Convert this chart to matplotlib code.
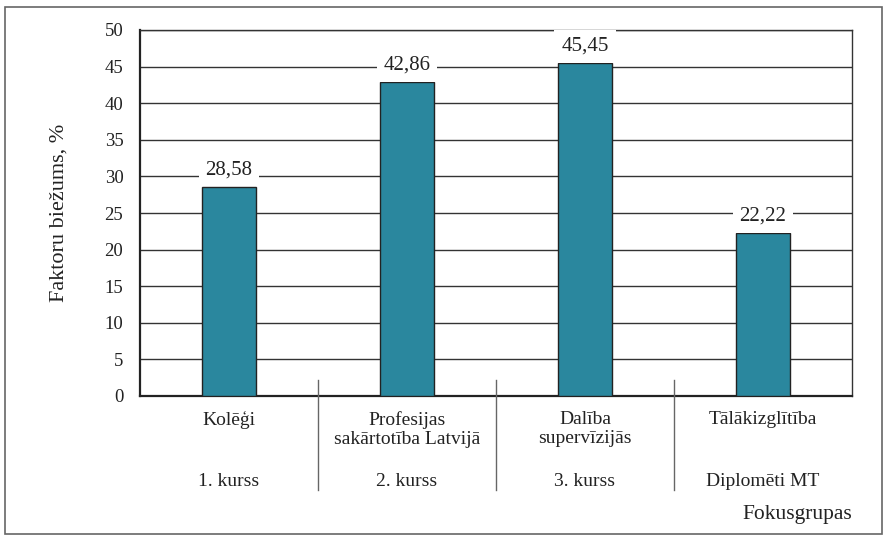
import matplotlib
matplotlib.use("Agg")
import matplotlib.pyplot as plt
from matplotlib.patches import Rectangle

categories = ["Kolēģi", "Profesijas\nsakārtotība Latvijā", "Dalība\nsupervīzijās", "Tālākizglītība"]
groups = ["1. kurss", "2. kurss", "3. kurss", "Diplomēti MT"]
values = [28.58, 42.86, 45.45, 22.22]
yticks = [0, 5, 10, 15, 20, 25, 30, 35, 40, 45, 50]

BAR_COLOR = "#2a879e"
TEXT = "#222222"
plt.rcParams["font.family"] = ["Liberation Serif", "DejaVu Serif"]

fig = plt.figure(figsize=(8.87, 5.41), dpi=100)
ax = fig.add_axes([140 / 887, 1 - 396 / 541, 712 / 887, 366 / 541])

# outer frame round the whole figure
fig.patches.append(Rectangle((5 / 887, 7 / 541), 877 / 887, 527 / 541,
                             transform=fig.transFigure, fill=False,
                             edgecolor="#666666", lw=1.2))

x = list(range(len(values)))
ax.bar(x, values, width=0.3, color=BAR_COLOR, edgecolor=TEXT, lw=1.0, zorder=3)

for xi, v in zip(x, values):
    ax.text(xi, v + 1.0, f"{v:.2f}".replace(".", ","), ha="center", va="bottom",
            fontsize=15, color=TEXT, zorder=4,
            bbox=dict(facecolor="white", edgecolor="none", pad=5))

ax.set_xlim(-0.5, len(values) - 0.5)
ax.set_ylim(0, 50)
ax.set_yticks(yticks)
ax.set_yticklabels([str(t) for t in yticks], fontsize=13.5, color=TEXT)
ax.tick_params(axis="y", length=0, pad=12)
ax.set_xticks([])
ax.yaxis.grid(True, color="#333333", lw=1.0, zorder=0)
ax.set_axisbelow(True)
for side in ["left", "bottom"]:
    ax.spines[side].set_linewidth(1.6)
    ax.spines[side].set_color(TEXT)
for side in ["top", "right"]:
    ax.spines[side].set_linewidth(1.0)
    ax.spines[side].set_color("#333333")

# category / group labels and the divider lines between them
for xi, (cat, grp) in enumerate(zip(categories, groups)):
    ax.text(xi, -2.1, cat, ha="center", va="top", fontsize=14, color=TEXT,
            linespacing=1.12)
    ax.text(xi, -10.5, grp, ha="center", va="top", fontsize=14, color=TEXT)
for xi in x[:-1]:
    ax.plot([xi + 0.5, xi + 0.5], [2.2, -12.9], color="#666666", lw=1.0,
            clip_on=False, zorder=5)

ax.set_ylabel("Faktoru biežums, %", fontsize=16, color=TEXT)
ax.yaxis.set_label_coords(-0.101, 0.5)
ax.text(len(values) - 0.5, -14.9, "Fokusgrupas", ha="right", va="top",
        fontsize=15.5, color=TEXT)

fig.savefig("out.png", dpi=100)
